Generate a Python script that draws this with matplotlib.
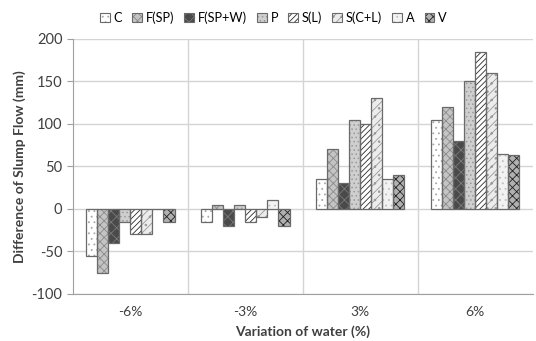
import matplotlib
matplotlib.use("Agg")
import matplotlib.pyplot as plt
import numpy as np

plt.rcParams['font.family'] = ['Lato', 'DejaVu Sans']
plt.rcParams['axes.unicode_minus'] = False
plt.rcParams['hatch.linewidth'] = 0.6

categories = ['-6%', '-3%', '3%', '6%']
mixes = ['C', 'F(SP)', 'F(SP+W)', 'P', 'S(L)', 'S(C+L)', 'A', 'V']
values = {
    'C':       [-55, -15, 35, 105],
    'F(SP)':   [-75, 5, 70, 120],
    'F(SP+W)': [-40, -20, 30, 80],
    'P':       [-15, 5, 105, 150],
    'S(L)':    [-30, -15, 100, 185],
    'S(C+L)':  [-30, -10, 130, 160],
    'A':       [0, 10, 35, 65],
    'V':       [-15, -20, 40, 63],
}

# face colour, hatch pattern, hatch colour for each series
styles = {
    'C':       ('#ffffff', '...', '#a8a8a8'),
    'F(SP)':   ('#c4c4c4', 'xxxx', '#8a8a8a'),
    'F(SP+W)': ('#4a4a4a', 'xxx', '#7a7a7a'),
    'P':       ('#cfcfcf', '....', '#9a9a9a'),
    'S(L)':    ('#ffffff', '//////', '#2a2a2a'),
    'S(C+L)':  ('#ececec', '////..', '#999999'),
    'A':       ('#f2f2f2', '...', '#c0c0c0'),
    'V':       ('#b0b0b0', 'xxxx', '#202020'),
}

fig = plt.figure(figsize=(5.36, 3.41), dpi=100)
ax = fig.add_axes([0.136, 0.138, 0.858, 0.748])

x = np.arange(len(categories))
width = 0.096
n = len(mixes)
handles = []
for i, m in enumerate(mixes):
    fc, hatch, hc = styles[m]
    pos = x + (i - (n - 1) / 2) * width
    ax.bar(pos, values[m], width, color=fc, hatch=hatch, edgecolor=hc,
           linewidth=0, zorder=3)
    ax.bar(pos, values[m], width, color='none', edgecolor='#6a6a6a',
           linewidth=0.9, zorder=4)
    # legend swatch: hatched fill plus grey outline
    fill = plt.Rectangle((0, 0), 1, 1, facecolor=fc, hatch=hatch,
                         edgecolor=hc, linewidth=0)
    rim = plt.Rectangle((0, 0), 1, 1, facecolor='none', edgecolor='#6a6a6a',
                        linewidth=0.8)
    handles.append((fill, rim))

ax.set_xlim(-0.5, len(categories) - 0.5)
ax.set_ylim(-100, 200)
ax.set_yticks(np.arange(-100, 201, 50))
ax.set_xticks(x)
ax.set_xticklabels(categories)
ax.tick_params(axis='x', length=0, labelsize=10, pad=9, colors='#404040')
ax.tick_params(axis='y', length=4, labelsize=10.5, colors='#a0a0a0',
               labelcolor='#404040', direction='out')

ax.grid(axis='y', color='#d4d4d4', linewidth=1, zorder=0)
for b in x[:-1] + 0.5:
    ax.axvline(b, color='#d4d4d4', linewidth=1, zorder=0)

for s in ['top', 'right']:
    ax.spines[s].set_visible(False)
for s in ['left', 'bottom']:
    ax.spines[s].set_color('#a0a0a0')

ax.set_ylabel('Difference of Slump Flow (mm)', fontsize=10, fontweight='bold',
              color='#404040')
ax.set_xlabel('Variation of water (%)', fontsize=10, fontweight='bold',
              color='#404040', labelpad=5)

fig.legend(handles, mixes, loc='upper center', bbox_to_anchor=(0.51, 1.0),
           ncol=8, frameon=False, fontsize=9.2, handlelength=0.75,
           handleheight=0.75, handletextpad=0.3, columnspacing=0.8)

fig.savefig('out.png', dpi=100)
